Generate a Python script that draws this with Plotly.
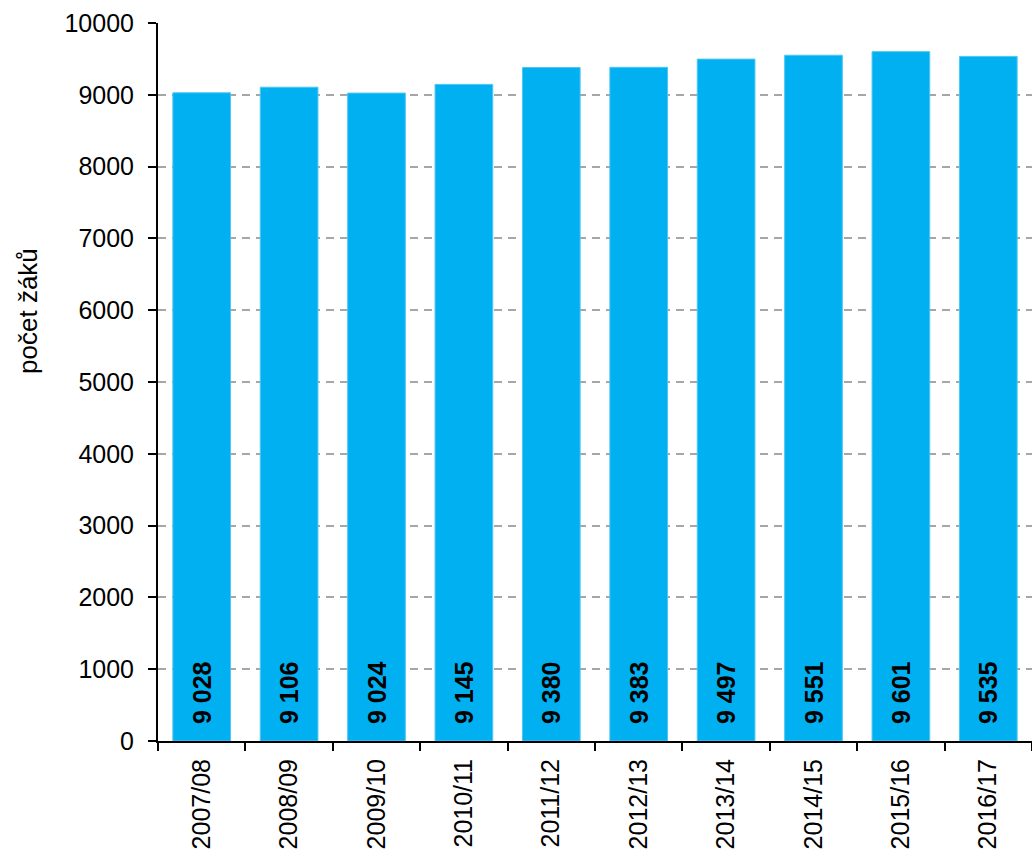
import plotly.graph_objects as go

roky = ['2007/08', '2008/09', '2009/10', '2010/11', '2011/12',
        '2012/13', '2013/14', '2014/15', '2015/16', '2016/17']
pocet_zaku = [9028, 9106, 9024, 9145, 9380, 9383, 9497, 9551, 9601, 9535]

# popisky s mezerou jako oddělovačem tisíců, posunuté nad základnu
popisky = ['\u00a0\u00a0' + f'{v:,}'.replace(',', ' ') for v in pocet_zaku]

fig = go.Figure(data=[go.Bar(
    x=roky, y=pocet_zaku, text=popisky,
    textposition='inside', insidetextanchor='start', textangle=-90,
    textfont=dict(family='Liberation Sans', size=25, color='black', weight='bold'),
    marker_color='#00B0F0', marker_line=dict(color='#4FC6F2', width=1),
)])

fig.update_layout(
    width=1032, height=854,
    margin=dict(l=158, r=0, t=23, b=113),
    plot_bgcolor='white', paper_bgcolor='white',
    bargap=0.34,
    showlegend=False,
    font=dict(family='Liberation Sans', size=25, color='black'),
)
fig.update_xaxes(
    tickangle=-90, tickson='boundaries', ticks='outside', ticklen=8,
    tickwidth=2, tickcolor='black', showline=True, linecolor='black',
    linewidth=2, automargin=False, ticklabelstandoff=6,
)
fig.update_yaxes(
    range=[0, 10000], dtick=1000, tickformat='d', ticks='outside', ticklen=8,
    tickwidth=2, tickcolor='black', showline=True, linecolor='black',
    linewidth=2, showgrid=True, gridcolor='#A6A6A6', griddash='8px,6px',
    gridwidth=1.5, zeroline=False, automargin=False, ticklabelstandoff=9,
)

fig.add_annotation(
    text='počet žáků', textangle=-90, showarrow=False,
    xref='paper', yref='paper', x=0, y=0.599,
    xanchor='center', yanchor='middle', xshift=-130,
    font=dict(family='Liberation Sans', size=26, color='black'),
)

fig.write_html("out.html", config={'displayModeBar': False},
               post_script="document.body.style.margin='0';")
